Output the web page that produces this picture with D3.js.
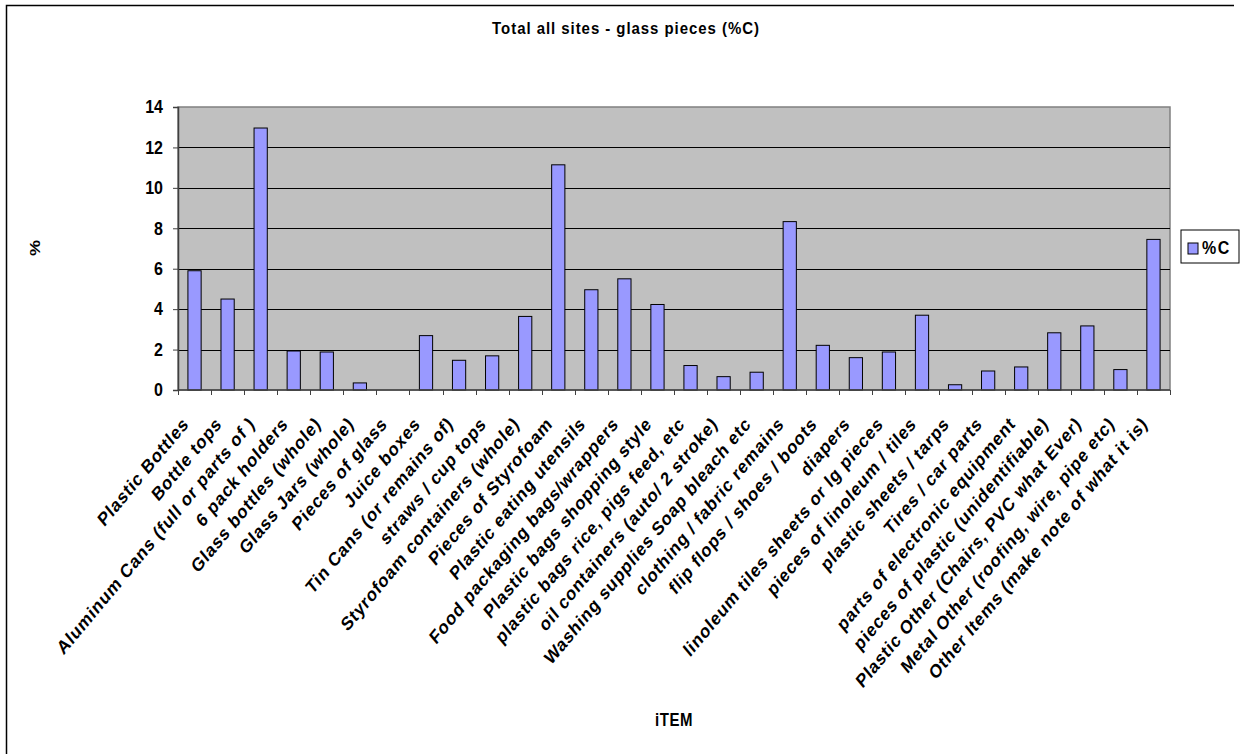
<!DOCTYPE html>
<html lang="en">
<head>
<meta charset="utf-8">
<title>Total all sites - glass pieces</title>
<script src="https://cdn.jsdelivr.net/npm/d3@7"></script>
<style>
  html, body { margin: 0; padding: 0; background: #fff; }
  svg text { font-family: "Liberation Sans", Arial, sans-serif; font-weight: bold; fill: #000; }
</style>
</head>
<body>
<script>
// categories along the x axis
const items = [
  "Plastic Bottles", "Bottle tops", "Aluminum Cans (full or parts of )", "6 pack holders",
  "Glass bottles (whole)", "Glass Jars (whole)", "Pieces of glass", "Juice boxes",
  "Tin Cans (or remains of)", "straws / cup tops", "Styrofoam containers (whole)",
  "Pieces of Styrofoam", "Plastic eating utensils", "Food packaging bags/wrappers",
  "Plastic bags shopping style", "plastic bags rice, pigs feed, etc",
  "oil containers (auto/ 2 stroke)", "Washing supplies Soap bleach etc",
  "clothing / fabric remains", "flip flops / shoes / boots", "diapers",
  "linoleum tiles sheets or lg pieces", "pieces of linoleum / tiles",
  "plastic sheets / tarps", "Tires / car parts", "parts of electronic equipment",
  "pieces of plastic (unidentifiable)", "Plastic Other (Chairs, PVC what Ever)",
  "Metal Other (roofing, wire, pipe etc)", "Other Items (make note of what it is)"
];
// %C values
const pctC = [
  5.90, 4.50, 12.96, 1.93, 1.88, 0.35, 0, 2.69, 1.47, 1.69, 3.64,
  11.14, 4.96, 5.50, 4.23, 1.21, 0.66, 0.88, 8.33, 2.21, 1.60,
  1.88, 3.70, 0.26, 0.94, 1.14, 2.83, 3.17, 1.01, 7.45
];
const yTicks = [0, 2, 4, 6, 8, 10, 12, 14];
const seriesName = "%C";

let w = 1243, h = 754;
let pLeft = 178, pRight = 1170, pTop = 107, pBottom = 390;
let stretch = 1.2;   // the original picture is taller than wide, text included

let svg = d3.select("body").append("svg")
  .attr("width", w)
  .attr("height", h);

// outer chart border
svg.append("path")
  .attr("d", "M6.5," + (h + 10) + " V5.5 H1234")
  .attr("fill", "none")
  .attr("stroke", "#000")
  .attr("stroke-width", 1.5);

let x = d3.scaleBand()
  .domain(items)
  .range([pLeft, pRight])
  .paddingInner(0.6)
  .paddingOuter(0.3);

let y = d3.scaleLinear()
  .domain([0, 14])
  .range([pBottom, pTop]);

// plot area
svg.append("rect")
  .attr("x", pLeft).attr("y", pTop)
  .attr("width", pRight - pLeft).attr("height", pBottom - pTop)
  .attr("fill", "#c0c0c0")
  .attr("stroke", "#808080")
  .attr("stroke-width", 1.5);

// gridlines
svg.append("g")
  .selectAll("line")
  .data(yTicks.filter(d => d > 0 && d < 14))
  .enter()
  .append("line")
  .attr("x1", pLeft).attr("x2", pRight)
  .attr("y1", d => Math.round(y(d)) + 0.5)
  .attr("y2", d => Math.round(y(d)) + 0.5)
  .attr("stroke", "#000")
  .attr("stroke-width", 1.2);

// bars
svg.append("g")
  .selectAll("rect")
  .data(pctC)
  .enter()
  .append("rect")
  .attr("x", (d, i) => x(items[i]))
  .attr("y", d => y(d))
  .attr("width", x.bandwidth())
  .attr("height", d => pBottom - y(d))
  .attr("fill", "#9999ff")
  .attr("stroke", "#000")
  .attr("stroke-width", 1);

// y axis
let yAxis = d3.axisLeft(y)
  .tickValues(yTicks)
  .tickSize(5)
  .tickPadding(10);

let yg = svg.append("g")
  .attr("transform", "translate(" + pLeft + ",0)")
  .call(yAxis);
yg.select(".domain").attr("stroke", "#404040").attr("stroke-width", 1.5);
yg.selectAll(".tick line").attr("stroke", "#404040");
yg.selectAll("text")
  .attr("font-size", "16px")
  .attr("font-family", "Liberation Sans, Arial, sans-serif")
  .attr("font-weight", "bold")
  .attr("fill", "#000")
  .attr("dy", "0.3em")
  .attr("transform", "scale(1," + stretch + ")");

// x axis: ticks on category boundaries
let edges = d3.range(items.length + 1).map(i => pLeft + i * (pRight - pLeft) / items.length);
let xg = svg.append("g");
xg.append("line")
  .attr("x1", pLeft).attr("x2", pRight)
  .attr("y1", pBottom).attr("y2", pBottom)
  .attr("stroke", "#404040")
  .attr("stroke-width", 1.5);
xg.selectAll("line.tk")
  .data(edges)
  .enter()
  .append("line")
  .attr("class", "tk")
  .attr("x1", d => Math.round(d) + 0.5).attr("x2", d => Math.round(d) + 0.5)
  .attr("y1", pBottom).attr("y2", pBottom + 5)
  .attr("stroke", "#404040");

xg.selectAll("text")
  .data(items)
  .enter()
  .append("text")
  .text(d => d)
  .attr("text-anchor", "end")
  .attr("font-size", "16px")
  .attr("letter-spacing", "0.7px")
  .attr("transform", d => "translate(" + (x(d) + x.bandwidth() / 2 - 5) + "," + (pBottom + 35) +
    ") scale(1," + stretch + ") rotate(-45)");

// titles
svg.append("text")
  .attr("transform", "translate(626,34) scale(1,1.1)")
  .attr("text-anchor", "middle")
  .attr("font-size", "15px")
  .attr("letter-spacing", "0.95px")
  .text("Total all sites - glass pieces (%C)");

svg.append("text")
  .attr("transform", "translate(674,726) scale(1," + stretch + ")")
  .attr("text-anchor", "middle")
  .attr("font-size", "15px")
  .attr("letter-spacing", "0.5px")
  .text("iTEM");

svg.append("text")
  .attr("transform", "translate(40,248) rotate(-90) scale(" + stretch + ",1)")
  .attr("text-anchor", "middle")
  .attr("font-size", "15px")
  .text("%");

// legend
let lg = svg.append("g").attr("transform", "translate(1181,230)");
lg.append("rect")
  .attr("width", 58).attr("height", 33)
  .attr("fill", "#fff")
  .attr("stroke", "#000")
  .attr("stroke-width", 1);
lg.append("rect")
  .attr("x", 7).attr("y", 13)
  .attr("width", 10).attr("height", 11)
  .attr("fill", "#9999ff")
  .attr("stroke", "#000");
lg.append("text")
  .attr("transform", "translate(21,24) scale(1," + stretch + ")")
  .attr("font-size", "16px")
  .attr("letter-spacing", "1.5px")
  .text(seriesName);
</script>
</body>
</html>
